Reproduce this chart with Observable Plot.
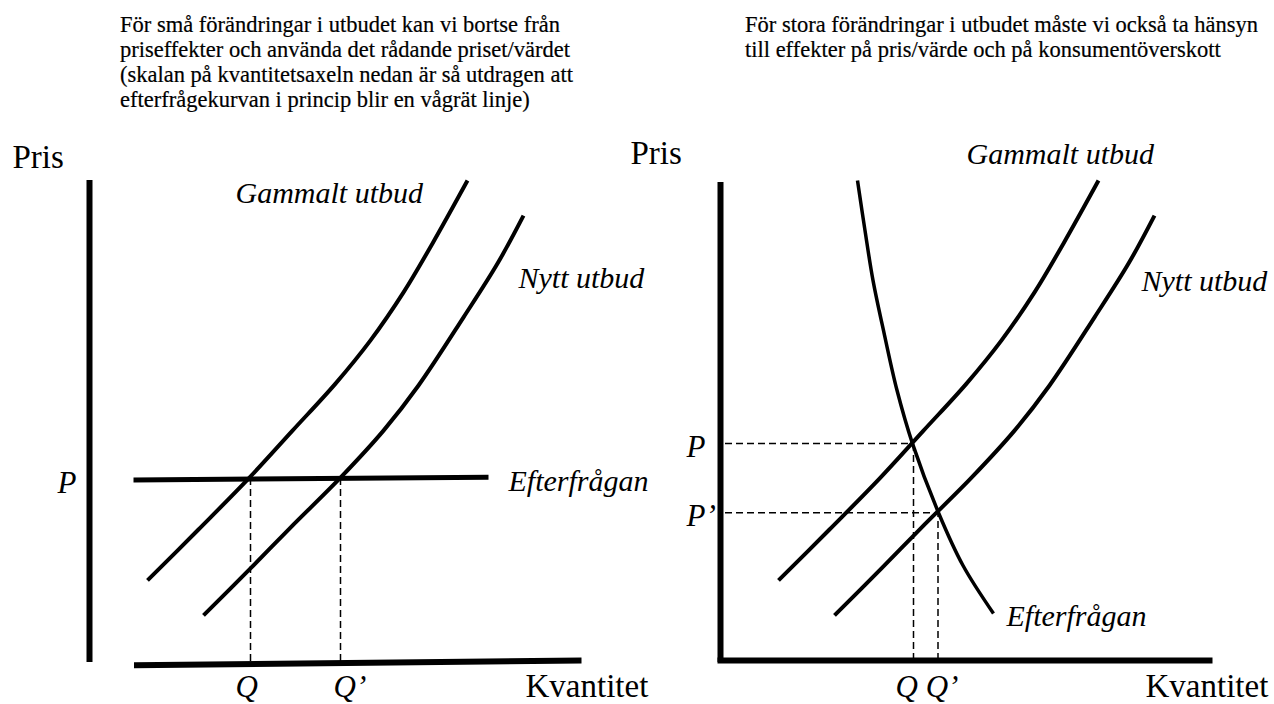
<!DOCTYPE html>
<html>
<head>
<meta charset="utf-8">
<script src="https://cdn.jsdelivr.net/npm/d3@7"></script>
<script src="https://cdn.jsdelivr.net/npm/@observablehq/plot@0.6"></script>
<style>
  html, body { margin: 0; padding: 0; background: #fff; }
  #wrap { position: relative; width: 1274px; height: 704px; background: #fff; overflow: hidden; }
  #wrap svg { position: absolute; left: 0; top: 0; }
  .heading { position: absolute; font-family: "Liberation Serif", "Times New Roman", serif; font-size: 22.5px; line-height: 25px; color: #000; white-space: pre; z-index: 2; -webkit-text-stroke: 0.2px #000; }
</style>
</head>
<body>
<div id="wrap">
  <div class="heading" id="hLeft" style="left:120px; top:12px;"></div>
  <div class="heading" id="hRight" style="left:745px; top:12px;"></div>
</div>
<script>
// ---- Texts ----
const headingLeft = [
  "För små förändringar i utbudet kan vi bortse från",
  "priseffekter och använda det rådande priset/värdet",
  "(skalan på kvantitetsaxeln nedan är så utdragen att",
  "efterfrågekurvan i princip blir en vågrät linje)"
];
const headingRight = [
  "För stora förändringar i utbudet måste vi också ta hänsyn",
  "till effekter på pris/värde och på konsumentöverskott"
];

// ---- Curves (quantity q, price p; both 0–100 units) ----
const supplyOldQ = [11.6, 21.8, 31.8, 40.6, 49.2, 56.2, 62.8, 68.6, 75.6];
const supplyOldP = [16.9, 27.5, 38.1, 48.1, 57.9, 66.9, 76.9, 87.1, 100.2];
const supplyNewQ = [22.8, 32.2, 40.2, 50.2, 58.8, 65.8, 74.8, 81.6, 86.8];
const supplyNewP = [9.6, 19.4, 27.9, 38.3, 48.1, 57.5, 71.7, 82.9, 92.9];

// left panel: flat demand
const demandFlatQ = [8.8, 79.8];
const demandFlatP = [37.8, 38.4];
// right panel: downward-sloping demand
const demandQ = [27.4, 28.9, 30.5, 32.8, 35.3, 38.4, 43.6, 48.5, 54.6];
const demandP = [100.2, 89.8, 79.4, 68.0, 56.5, 45.4, 31.0, 20.0, 10.0];

// equilibria
const leftEqQ = [32.2, 50.2];
const leftEqP = [38.0, 38.0];
const rightEqQ = [38.6, 43.5];
const rightEqP = [45.4, 31.0];

// axes (extent in data units)
const leftYAxisP = [-0.2, 100.2];
const leftXAxisQ = [8.9, 98.4];
const leftXAxisP = [-0.8, 0.2];
const rightYAxisP = [-0.2, 99.8];
const rightXAxisQ = [-0.6, 98.4];
const rightXAxisP = [0.2, 0.2];

// labels
const leftAxisLabels = ["Pris", "Kvantitet"];
const leftAxisLabelQ = [-15.4, 87.2];
const leftAxisLabelP = [102.9, -7.3];
const leftCurveLabels = ["Gammalt utbud", "Nytt utbud", "Efterfrågan"];
const leftCurveLabelQ = [29.2, 85.8, 83.8];
const leftCurveLabelP = [95.6, 77.9, 35.6];
const leftTickLabels = ["P", "Q", "Q’"];
const leftTickLabelQ = [-6.4, 29.2, 48.8];
const leftTickLabelP = [35.2, -7.3, -7.3];

const rightAxisLabels = ["Pris", "Kvantitet"];
const rightAxisLabelQ = [-18, 85];
const rightAxisLabelP = [103.7, -7.3];
const rightCurveLabels = ["Gammalt utbud", "Nytt utbud", "Efterfrågan"];
const rightCurveLabelQ = [49.2, 84.2, 57.2];
const rightCurveLabelP = [103.7, 77.1, 7.3];
const rightTickLabels = ["P", "P’", "Q Q’"];
const rightTickLabelQ = [-6.8, -6.8, 35];
const rightTickLabelP = [42.7, 28.3, -7.3];

// ---- helpers ----
const pts = (Q, P) => Q.map((q, i) => ({q, p: P[i]}));
const lbl = (T, Q, P) => T.map((t, i) => ({t, q: Q[i], p: P[i]}));
const SERIF = "Liberation Serif, Times New Roman, serif";

document.getElementById("hLeft").textContent = headingLeft.join("\n");
document.getElementById("hRight").textContent = headingRight.join("\n");

function panel(xRange, parts) {
  return Plot.plot({
    width: 1274,
    height: 704,
    margin: 0,
    x: {domain: [0, 100], range: xRange, axis: null},
    y: {domain: [0, 100], range: [661, 181], axis: null},
    style: {background: "transparent", overflow: "visible"},
    marks: parts
  });
}

const supplyMarks = [
  Plot.line(pts(supplyOldQ, supplyOldP), {x: "q", y: "p", stroke: "#000", strokeWidth: 4, curve: "catmull-rom", strokeLinecap: "butt"}),
  Plot.line(pts(supplyNewQ, supplyNewP), {x: "q", y: "p", stroke: "#000", strokeWidth: 4, curve: "catmull-rom", strokeLinecap: "butt"})
];

function textMarks(axisL, curveL, tickL) {
  return [
    Plot.text(axisL, {x: "q", y: "p", text: "t", textAnchor: "start", lineAnchor: "bottom", fontSize: 33, fontFamily: SERIF, fill: "#000"}),
    Plot.text(curveL, {x: "q", y: "p", text: "t", textAnchor: "start", lineAnchor: "bottom", fontSize: 30, fontStyle: "italic", fontFamily: SERIF, fill: "#000"}),
    Plot.text(tickL, {x: "q", y: "p", text: "t", textAnchor: "start", lineAnchor: "bottom", fontSize: 31, fontStyle: "italic", fontFamily: SERIF, fill: "#000"})
  ];
}

const dash = {stroke: "#000", strokeWidth: 1.5, strokeDasharray: "7,4"};

const left = panel([89, 589], [
  Plot.ruleX(pts(leftEqQ, leftEqP), {x: "q", y1: 0, y2: "p", ...dash}),
  Plot.ruleX([0], {y1: leftYAxisP[0], y2: leftYAxisP[1], stroke: "#000", strokeWidth: 6}),
  Plot.line(pts(leftXAxisQ, leftXAxisP), {x: "q", y: "p", stroke: "#000", strokeWidth: 6, strokeLinecap: "butt"}),
  Plot.line(pts(demandFlatQ, demandFlatP), {x: "q", y: "p", stroke: "#000", strokeWidth: 5, strokeLinecap: "butt"}),
  ...supplyMarks,
  ...textMarks(lbl(leftAxisLabels, leftAxisLabelQ, leftAxisLabelP),
               lbl(leftCurveLabels, leftCurveLabelQ, leftCurveLabelP),
               lbl(leftTickLabels, leftTickLabelQ, leftTickLabelP))
]);

const rightEq = pts(rightEqQ, rightEqP);
const right = panel([720, 1220], [
  Plot.ruleX(rightEq, {x: "q", y1: rightXAxisP[0], y2: "p", ...dash}),
  Plot.ruleY(rightEq, {y: "p", x1: 1, x2: "q", ...dash}),
  Plot.ruleX([0], {y1: rightYAxisP[0], y2: rightYAxisP[1], stroke: "#000", strokeWidth: 6}),
  Plot.line(pts(rightXAxisQ, rightXAxisP), {x: "q", y: "p", stroke: "#000", strokeWidth: 6, strokeLinecap: "butt"}),
  Plot.line(pts(demandQ, demandP), {x: "q", y: "p", stroke: "#000", strokeWidth: 3.5, curve: "catmull-rom", strokeLinecap: "butt"}),
  ...supplyMarks,
  ...textMarks(lbl(rightAxisLabels, rightAxisLabelQ, rightAxisLabelP),
               lbl(rightCurveLabels, rightCurveLabelQ, rightCurveLabelP),
               lbl(rightTickLabels, rightTickLabelQ, rightTickLabelP))
]);

const wrap = document.getElementById("wrap");
wrap.appendChild(left);
wrap.appendChild(right);
</script>
</body>
</html>
